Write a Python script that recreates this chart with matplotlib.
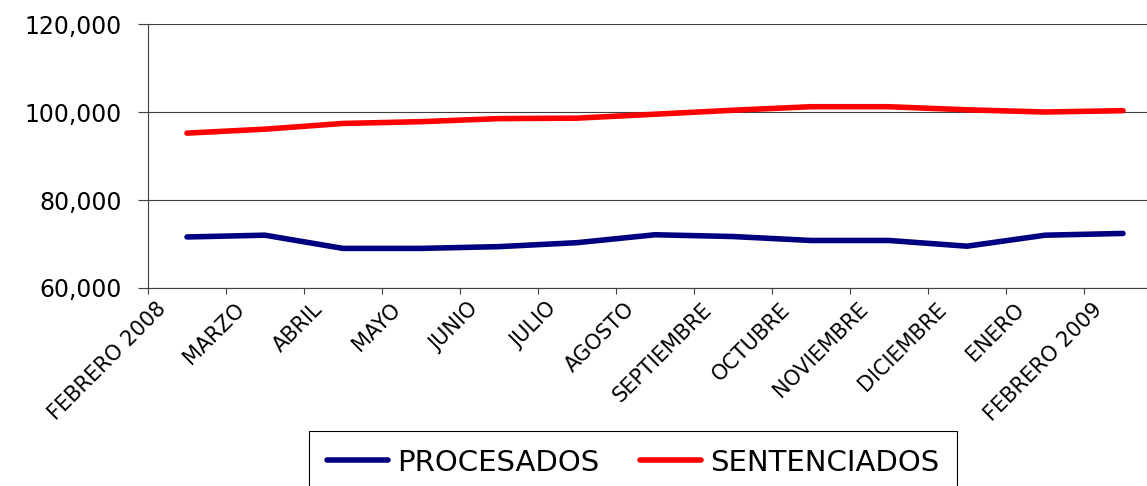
import matplotlib
matplotlib.use("Agg")
import matplotlib.pyplot as plt
import matplotlib.transforms as mtransforms
from matplotlib.ticker import FuncFormatter

# data
months = ['FEBRERO 2008', 'MARZO', 'ABRIL', 'MAYO', 'JUNIO', 'JULIO', 'AGOSTO',
          'SEPTIEMBRE', 'OCTUBRE', 'NOVIEMBRE', 'DICIEMBRE', 'ENERO', 'FEBRERO 2009']
procesados = [71600, 72000, 69000, 69000, 69400, 70300, 72100,
              71700, 70800, 70800, 69500, 72000, 72400]
sentenciados = [95200, 96100, 97400, 97800, 98500, 98600, 99500,
                100400, 101200, 101200, 100500, 100000, 100300]

plt.rcParams['font.family'] = ['DejaVu Sans']

fig = plt.figure(figsize=(11.47, 4.86), dpi=100)
W, H = 1147, 486
ax = fig.add_axes([148 / W, 1 - 288 / H, (1162 - 148) / W, (288 - 24) / H])

x = list(range(len(months)))
ax.plot(x, procesados, color='#000080', lw=4, solid_capstyle='round',
        solid_joinstyle='round', label='PROCESADOS', clip_on=False)
ax.plot(x, sentenciados, color='#ff0000', lw=4, solid_capstyle='round',
        solid_joinstyle='round', label='SENTENCIADOS', clip_on=False)

ax.set_xlim(-0.5, len(months) - 0.5)
ax.set_ylim(60000, 120000)
ax.set_yticks([60000, 80000, 100000, 120000])
ax.yaxis.set_major_formatter(FuncFormatter(lambda v, p: f'{int(v):,}'))
ax.tick_params(axis='y', labelsize=17, length=7, width=0.8, color='#404040', pad=12)

# tick marks between categories, labels drawn separately
ax.set_xticks([i - 0.5 for i in x])
ax.set_xticklabels([])
ax.tick_params(axis='x', length=4, width=0.8, color='#404040')

ax.grid(axis='y', color='#404040', lw=0.8)
ax.set_axisbelow(True)
for s in ['top', 'right']:
    ax.spines[s].set_visible(False)
for s in ['left', 'bottom']:
    ax.spines[s].set_color('#404040')
    ax.spines[s].set_linewidth(0.8)

trans = mtransforms.blended_transform_factory(ax.transData, ax.transAxes)
off = mtransforms.ScaledTranslation(-24 / 100, -18 / 100, fig.dpi_scale_trans)
for i, m in enumerate(months):
    ax.text(i, 0, m, transform=trans + off, rotation=45, rotation_mode='anchor',
            ha='right', va='center', fontsize=15)

leg = fig.legend(loc='upper center', bbox_to_anchor=(633 / W, 1 - 431 / H), ncol=2,
                 fontsize=21, frameon=True, fancybox=False, edgecolor='black',
                 framealpha=1, handlelength=2.1, handletextpad=0.3, columnspacing=1.4,
                 borderpad=0.6, borderaxespad=0)
leg.get_frame().set_linewidth(0.8)

fig.savefig('out.png', dpi=100)
